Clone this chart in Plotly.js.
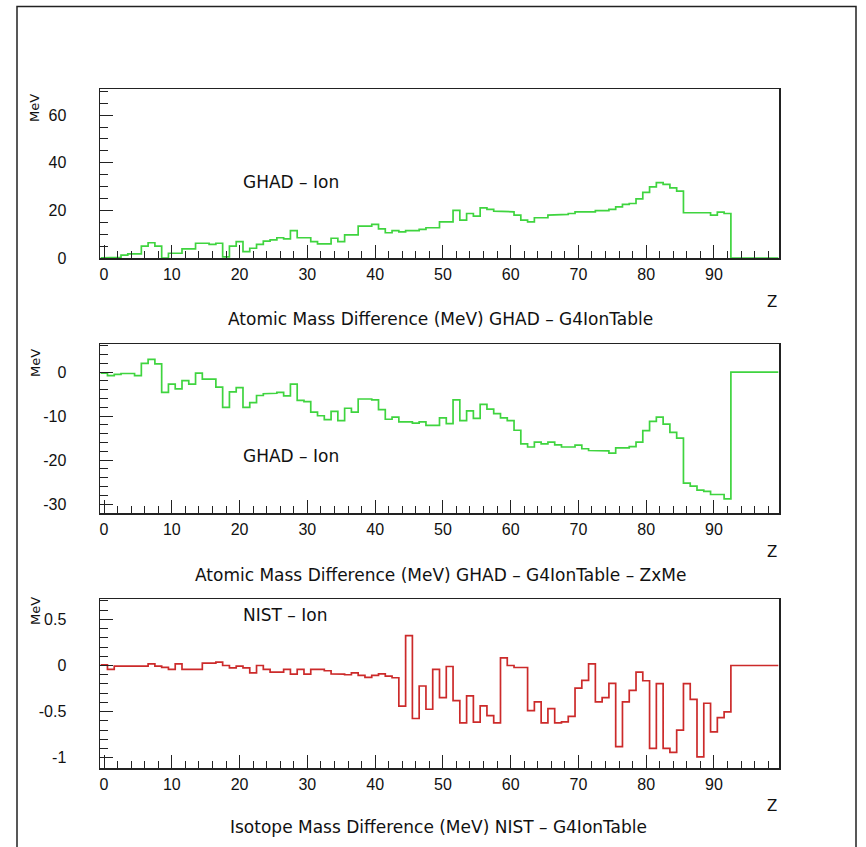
<!DOCTYPE html>
<html>
<head>
<meta charset="utf-8">
<script src="https://cdn.plot.ly/plotly-3.0.1.min.js"></script>
<style>
html,body{margin:0;padding:0;background:#fff;}
#chart{width:866px;height:847px;}
</style>
</head>
<body>
<div id="chart"></div>
<script>
// Bin values per Z (Z = 0 .. 99), one bin per integer Z
const ghadIon = [0.1,0.1,0.3,1.2,1.7,1.7,5.0,6.4,5.0,0.0,
2.0,2.0,3.8,3.8,6.2,6.2,5.7,6.2,0.5,5.0,
6.9,2.7,4.1,5.7,7.1,7.6,8.5,8.0,11.5,8.5,
8.5,6.9,5.9,5.9,8.3,6.9,9.7,9.7,13.4,13.4,
14.1,12.2,10.6,11.5,11.0,11.5,11.5,12.0,12.7,12.7,
15.2,15.2,20.0,15.9,18.7,17.6,21.1,20.4,19.7,19.4,
19.4,18.0,15.9,15.2,16.9,16.9,18.0,18.0,18.3,18.7,
19.4,19.4,19.4,19.9,19.9,20.4,21.5,22.5,22.9,24.8,
27.6,29.9,31.7,30.9,29.5,28.1,19.0,19.0,19.0,19.0,
18.0,19.3,18.7,0,0,0,0,0,0,0];

const ghadIonZxMe = [-0.2,-0.8,-0.5,-0.3,-0.3,-0.8,2.0,2.9,1.9,-4.6,
-2.7,-3.8,-1.9,-2.7,-0.2,-1.6,-1.6,-3.4,-8.0,-4.5,
-3.5,-8.0,-6.9,-5.3,-4.9,-4.8,-4.6,-5.4,-2.7,-6.4,
-6.7,-9.1,-9.9,-10.8,-8.9,-11.0,-8.2,-9.1,-6.1,-6.1,
-6.3,-8.5,-10.7,-10.2,-11.3,-11.3,-11.6,-11.3,-12.1,-12.1,
-10.4,-11.7,-6.3,-11.0,-8.8,-10.5,-7.3,-8.4,-9.4,-10.4,
-11.0,-13.2,-16.3,-17.0,-15.9,-16.3,-15.9,-16.5,-17.0,-17.0,
-16.6,-17.4,-17.8,-17.9,-17.9,-18.4,-17.2,-17.2,-16.9,-15.9,
-13.3,-11.2,-10.2,-11.8,-13.7,-15.0,-25.2,-25.9,-26.8,-27.1,
-27.8,-27.8,-28.8,0,0,0,0,0,0,0];

const nistIon = [0.007,-0.043,-0.007,-0.007,-0.007,-0.007,-0.007,0.018,-0.007,-0.02,
-0.043,0.018,-0.043,-0.043,-0.043,0.025,0.025,0.036,0,-0.025,
-0.007,-0.025,-0.079,0,-0.043,-0.072,-0.072,-0.043,-0.093,-0.043,
-0.093,-0.043,-0.043,-0.057,-0.09,-0.093,-0.10,-0.079,-0.108,-0.129,
-0.108,-0.09,-0.115,-0.133,-0.441,0.323,-0.574,-0.222,-0.474,-0.043,
-0.348,-0.011,-0.380,-0.621,-0.330,-0.614,-0.438,-0.542,-0.621,0.083,
0,-0.022,-0.022,-0.488,-0.395,-0.621,-0.466,-0.621,-0.61,-0.55,
-0.245,-0.161,0.018,-0.395,-0.348,-0.194,-0.879,-0.395,-0.269,-0.072,
-0.165,-0.897,-0.197,-0.897,-0.940,-0.700,-0.197,-0.366,-0.990,-0.409,
-0.718,-0.564,-0.502,0,0,0,0,0,0,0];

const Z = ghadIon.map((_, i) => i);

const xTickVals = [0,10,20,30,40,50,60,70,80,90];
const xTickText = ['0','10','20','30','40','50','60','70','80','90'];
const y1TickVals = [0,20,40,60];
const y1TickText = ['0','20','40','60'];
const y2TickVals = [-30,-20,-10,0];
const y2TickText = ['-30','-20','-10','0'];
const y3TickVals = [-1,-0.5,0,0.5];
const y3TickText = ['-1','-0.5','0','0.5'];

const titles = {
  x1: 'Atomic Mass Difference (MeV) GHAD \u2013 G4IonTable',
  x2: 'Atomic Mass Difference (MeV) GHAD \u2013 G4IonTable \u2013 ZxMe',
  x3: 'Isotope Mass Difference (MeV) NIST \u2013 G4IonTable',
  y: 'MeV', z: 'Z',
  l1: 'GHAD \u2013 Ion', l2: 'GHAD \u2013 Ion', l3: 'NIST \u2013 Ion'
};

function steps(vals) {
  const xs = [], ys = [];
  vals.forEach((v, i) => { xs.push(Z[i] - 0.5, Z[i] + 0.5); ys.push(v, v); });
  return {xs, ys};
}

const GREEN = '#3fd43f';
const RED = '#cc2a2a';
const s1 = steps(ghadIon), s2 = steps(ghadIonZxMe), s3 = steps(nistIon);

const traces = [
  {x: s1.xs, y: s1.ys, xaxis: 'x', yaxis: 'y', mode: 'lines', line: {color: GREEN, width: 1.7}, hoverinfo: 'skip'},
  {x: s2.xs, y: s2.ys, xaxis: 'x2', yaxis: 'y2', mode: 'lines', line: {color: GREEN, width: 1.7}, hoverinfo: 'skip'},
  {x: s3.xs, y: s3.ys, xaxis: 'x3', yaxis: 'y3', mode: 'lines', line: {color: RED, width: 1.7}, hoverinfo: 'skip'}
];

const W = 866, H = 847;
const px = v => v / W;
const py = v => (H - v) / H;
const FONT = 'Liberation Sans, Arial, sans-serif';
const TFONT = 'DejaVu Sans, sans-serif';

function xax(anchor) {
  return {
    anchor: anchor, domain: [px(100), px(779)], range: [-0.6, 99.6],
    showline: true, mirror: true, linecolor: '#222', linewidth: 1.5,
    ticks: 'inside', ticklen: 13, tickwidth: 1, tickcolor: '#222',
    tickvals: xTickVals, ticktext: xTickText,
    minor: {ticks: 'inside', ticklen: 7, dtick: 2, tick0: 0, tickcolor: '#222', tickwidth: 1},
    showgrid: false, zeroline: false,
    tickfont: {family: FONT, size: 16, color: '#111'}, ticklabelstandoff: 1,
    fixedrange: true
  };
}
function yax(anchor, dom, rng, tv, tt, mdt) {
  return {
    anchor: anchor, domain: dom, range: rng,
    showline: true, mirror: true, linecolor: '#222', linewidth: 1.5,
    ticks: 'inside', ticklen: 13, tickwidth: 1, tickcolor: '#222',
    tickvals: tv, ticktext: tt,
    minor: {ticks: 'inside', ticklen: 8, dtick: mdt, tickcolor: '#222', tickwidth: 1},
    showgrid: false, zeroline: false,
    tickfont: {family: FONT, size: 16, color: '#111'}, ticklabelstandoff: 29,
    fixedrange: true
  };
}

function ann(text, x, y, opts) {
  return Object.assign({text: text, x: px(x), y: py(y), xref: 'paper', yref: 'paper',
    showarrow: false, font: {family: TFONT, size: 17, color: '#111'},
    xanchor: 'center', yanchor: 'middle'}, opts || {});
}
const small = {family: TFONT, size: 13, color: '#111'};

const layout = {
  width: W, height: H,
  margin: {l: 0, r: 0, t: 0, b: 0},
  paper_bgcolor: '#fff', plot_bgcolor: '#fff',
  showlegend: false,
  xaxis: xax('y'),
  xaxis2: xax('y2'),
  xaxis3: xax('y3'),
  yaxis: yax('x', [py(258), py(89)], [0, 71], y1TickVals, y1TickText, 5),
  yaxis2: yax('x2', [py(513), py(344)], [-32, 6.4], y2TickVals, y2TickText, 2),
  yaxis3: yax('x3', [py(768), py(599)], [-1.11, 0.72], y3TickVals, y3TickText, 0.1),
  shapes: [
    {type: 'rect', xref: 'paper', yref: 'paper', x0: px(17), x1: px(856), y0: -0.02, y1: py(6.5),
     line: {color: '#222', width: 1.5}, fillcolor: 'rgba(0,0,0,0)'}
  ],
  annotations: [
    ann(titles.x1, 440, 319),
    ann(titles.x2, 440, 575),
    ann(titles.x3, 438, 827),
    ann(titles.z, 772, 302, {font: {family: TFONT, size: 15, color: '#111'}}),
    ann(titles.z, 772, 552, {font: {family: TFONT, size: 15, color: '#111'}}),
    ann(titles.z, 772, 806, {font: {family: TFONT, size: 15, color: '#111'}}),
    ann(titles.y, 35, 108, {textangle: -90, font: small}),
    ann(titles.y, 35, 363, {textangle: -90, font: small}),
    ann(titles.y, 35, 611, {textangle: -90, font: small}),
    ann(titles.l1, 241, 182, {xanchor: 'left'}),
    ann(titles.l2, 241, 456, {xanchor: 'left'}),
    ann(titles.l3, 241, 615, {xanchor: 'left'})
  ]
};

Plotly.newPlot('chart', traces, layout, {staticPlot: true, displayModeBar: false});
</script>
</body>
</html>
